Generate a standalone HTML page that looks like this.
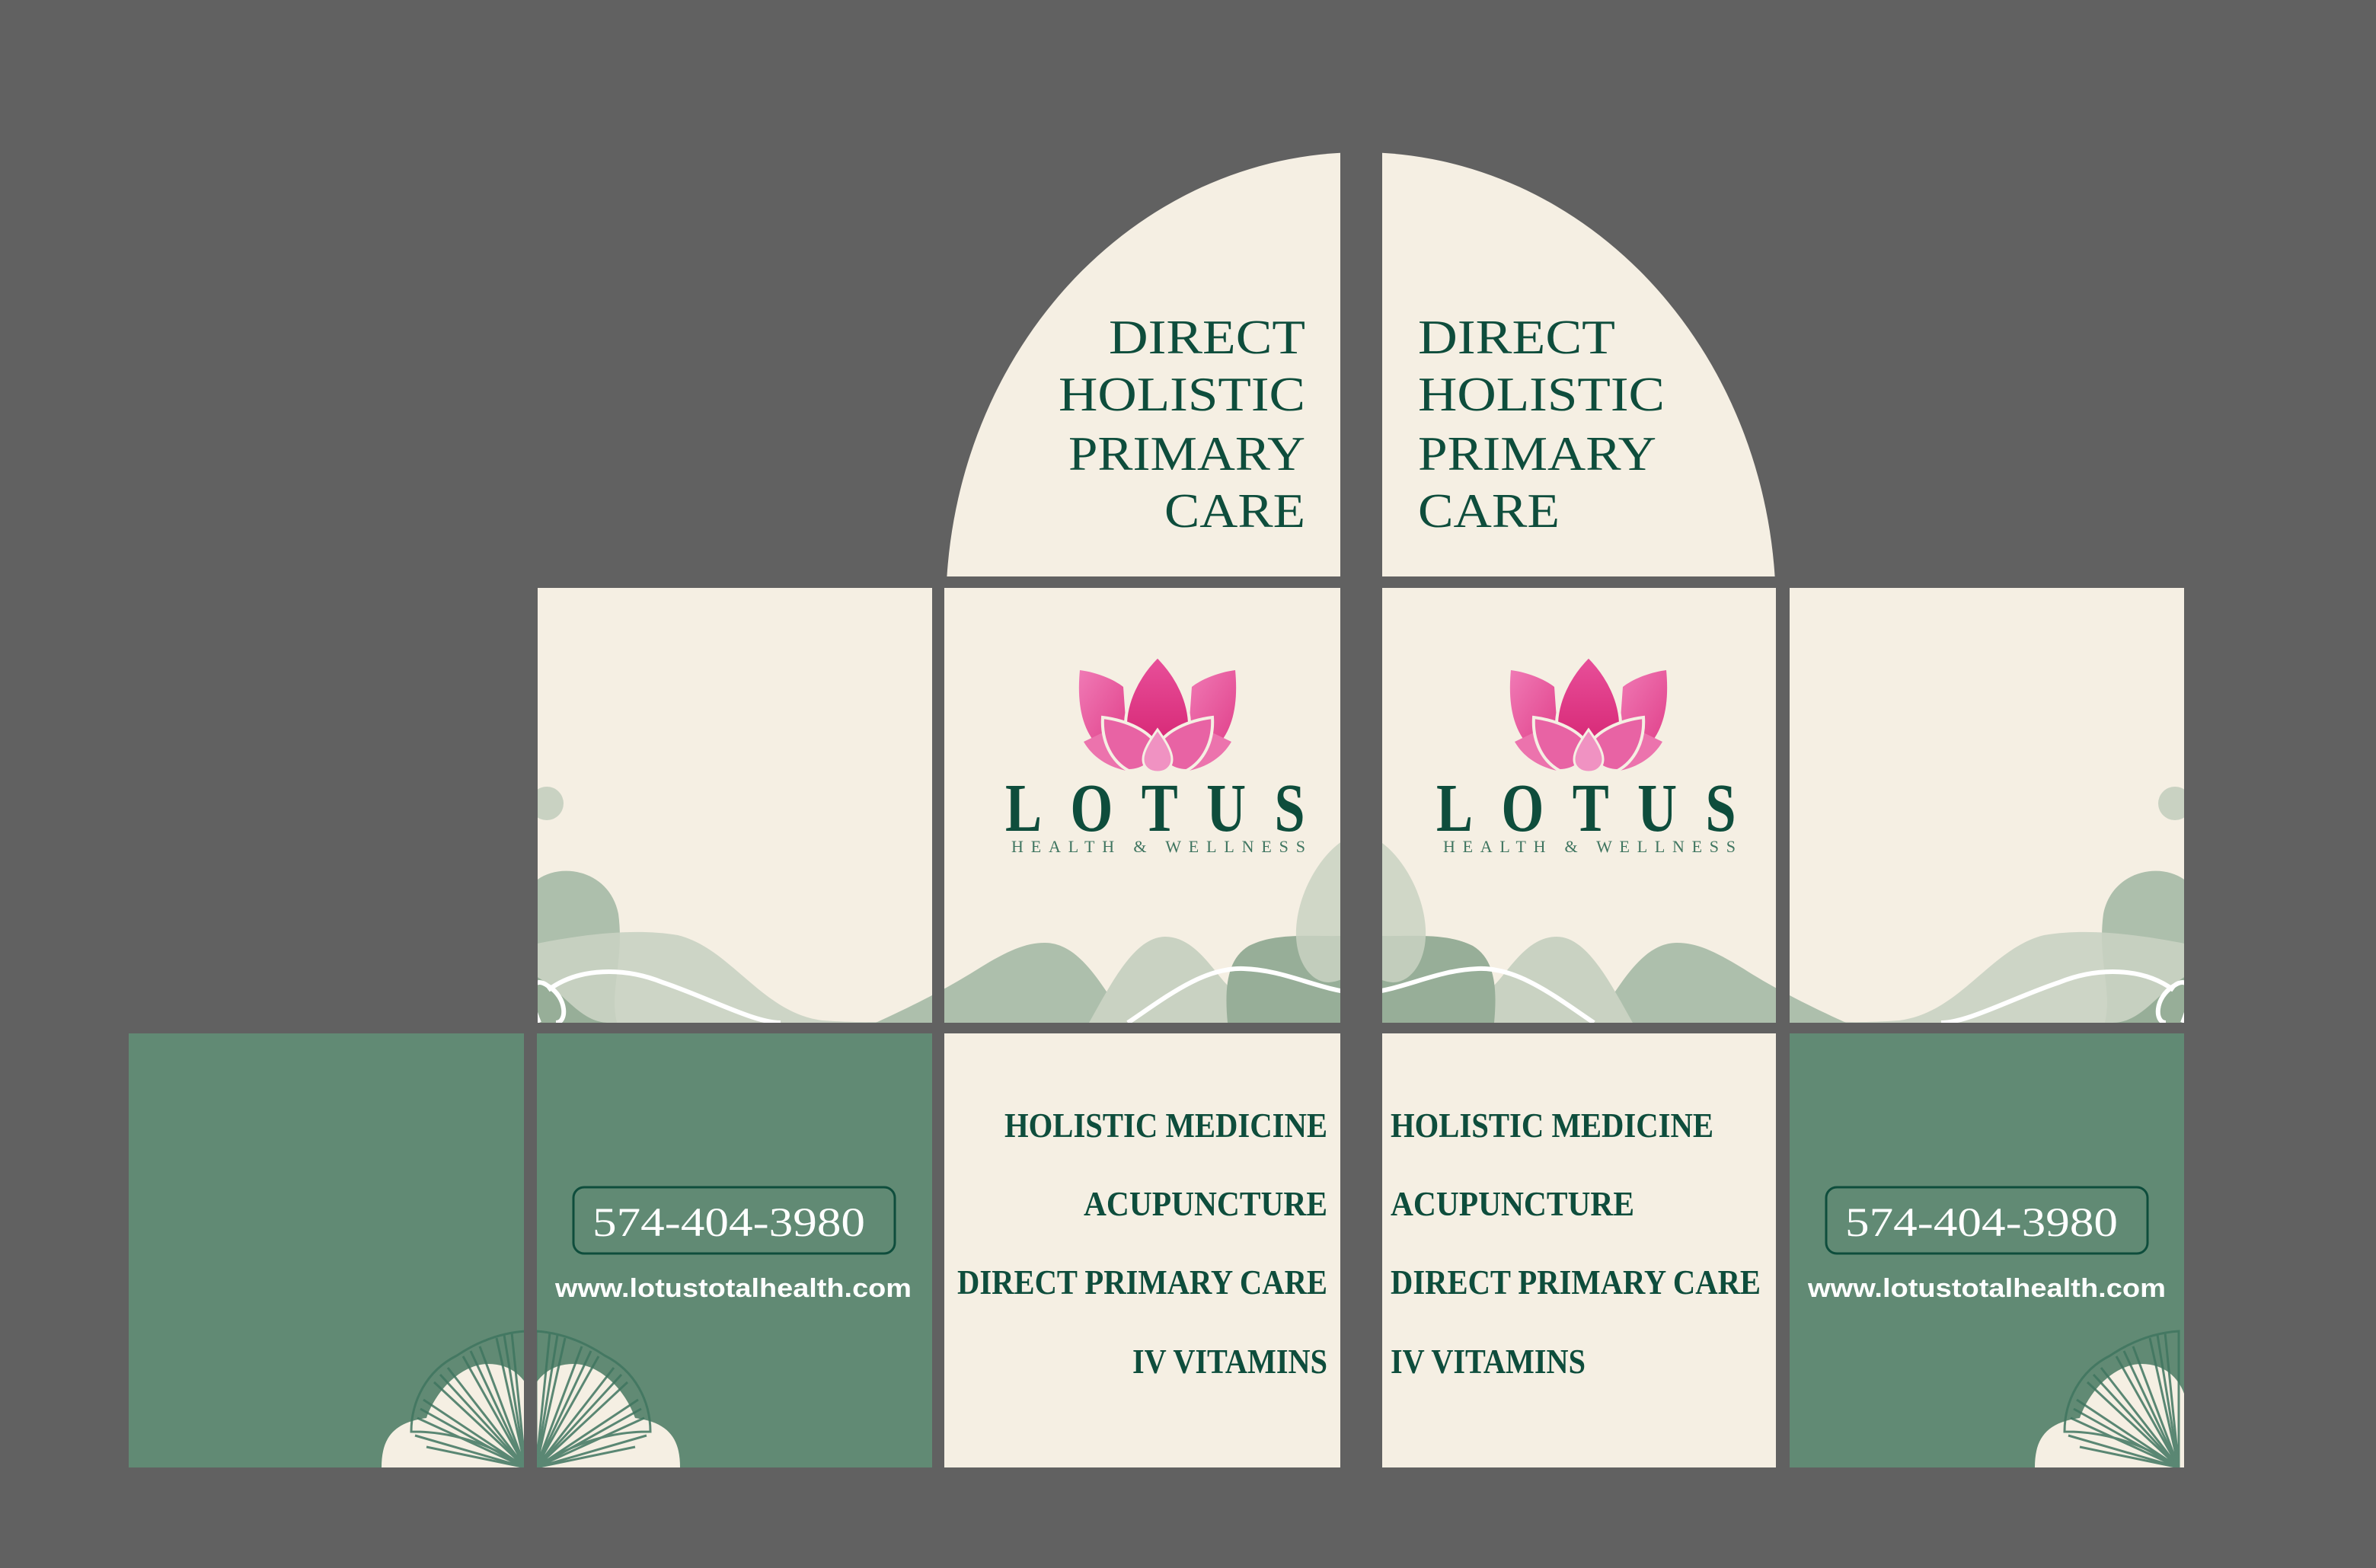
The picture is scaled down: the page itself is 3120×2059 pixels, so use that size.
<!DOCTYPE html>
<html><head><meta charset="utf-8"><style>
html,body{margin:0;padding:0;background:#616161;}
svg{display:block;}
</style></head><body>
<svg width="3120" height="2059" viewBox="0 0 3120 2059" xmlns="http://www.w3.org/2000/svg">
<defs>
<linearGradient id="pk" x1="0" y1="0" x2="0" y2="1">
<stop offset="0" stop-color="#e8509a"/><stop offset="1" stop-color="#d82a78"/></linearGradient>
<linearGradient id="pk2" x1="0" y1="0" x2="1" y2="1">
<stop offset="0" stop-color="#f07ab5"/><stop offset="1" stop-color="#e0408a"/></linearGradient>
<clipPath id="mid">
<rect x="706" y="772" width="518" height="571"/>
<rect x="1240" y="772" width="520" height="571"/>
<rect x="1815" y="772" width="517" height="571"/>
<rect x="2350" y="772" width="518" height="571"/>
</clipPath>
<clipPath id="bot">
<rect x="169" y="1357" width="519" height="570"/>
<rect x="705" y="1357" width="519" height="570"/>
<rect x="2350" y="1357" width="518" height="570"/>
</clipPath>
<g id="flower">
<path d="M-45,40 C-60,28 -85,20 -102,18 C-106,60 -100,95 -78,118 L-40,110 Z" fill="url(#pk2)"/>
<path d="M45,40 C60,28 85,20 102,18 C106,60 100,95 78,118 L40,110 Z" fill="url(#pk2)"/>
<path d="M0,0 C25,25 44,60 42,98 C30,112 -30,112 -42,98 C-44,60 -25,25 0,0 Z" fill="url(#pk)" stroke="#f5efe3" stroke-width="4"/>
<path d="M-97,112 L-72,100 C-62,125 -52,140 -36,151 C-66,146 -86,131 -97,112 Z" fill="#ec73ad"/>
<path d="M97,112 L72,100 C62,125 52,140 36,151 C66,146 86,131 97,112 Z" fill="#ec73ad"/>
<path d="M-72,80 C-40,84 -10,98 0,118 C-5,140 -20,150 -38,150 C-60,138 -74,112 -72,80 Z" fill="#e863a4" stroke="#f5efe3" stroke-width="4"/>
<path d="M72,80 C40,84 10,98 0,118 C5,140 20,150 38,150 C60,138 74,112 72,80 Z" fill="#e863a4" stroke="#f5efe3" stroke-width="4"/>
<path d="M0,96 C10,110 19,124 19,135 C19,146 10,152 0,152 C-10,152 -19,146 -19,135 C-19,124 -10,110 0,96 Z" fill="#f092c2" stroke="#f5efe3" stroke-width="3"/>
</g>
<g id="wavesL">
<path d="M700,1343 L700,1160 C730,1130 800,1140 812,1200 C820,1260 800,1300 810,1343 Z" fill="#adbfac"/>
<path d="M700,1240 C760,1228 830,1218 890,1228 C960,1245 1000,1330 1080,1340 C1150,1345 1200,1340 1240,1335 L1240,1343 L700,1343 Z" fill="#c9d2c2" opacity="0.9"/>
<path d="M700,1280 C740,1300 760,1343 800,1343 L700,1343 Z" fill="#97ae98"/>
<path d="M1150,1343 C1200,1320 1240,1300 1280,1275 C1320,1250 1345,1238 1372,1238 C1420,1238 1450,1300 1480,1343 Z" fill="#adbfac"/>
<path d="M1430,1343 C1460,1290 1490,1230 1530,1230 C1575,1230 1600,1290 1620,1300 C1640,1320 1650,1343 1660,1343 Z" fill="#c9d2c2"/>
<path d="M1612,1343 C1608,1300 1610,1260 1640,1242 C1680,1222 1730,1232 1787,1228 L1787,1343 Z" fill="#97ae98"/>
<path d="M1787,1095 C1750,1098 1705,1160 1702,1220 C1700,1260 1720,1290 1745,1290 C1770,1288 1787,1270 1787,1265 Z" fill="#c9d2c2" opacity="0.85"/>
<path d="M708,1343 C690,1300 700,1280 720,1295 C745,1310 745,1343 730,1343" fill="none" stroke="#fff" stroke-width="6"/>
<path d="M720,1300 C760,1270 820,1270 870,1290 C930,1310 990,1343 1025,1343" fill="none" stroke="#fff" stroke-width="6"/>
<path d="M1481,1343 C1530,1310 1580,1270 1633,1272 C1690,1274 1730,1300 1787,1305" fill="none" stroke="#fff" stroke-width="6"/>
</g>
<g id="ginkgo">
<path d="M501,1927 C501,1890 515,1868 560,1862 C575,1820 610,1791 641,1791 C672,1791 690,1810 697,1830 L697,1927 Z" fill="#f5efe3"/>
<g fill="none" stroke="#3f7560" stroke-width="3" opacity="0.85">
<path d="M690,1927 C620,1880 560,1880 540,1880 C540,1840 560,1800 600,1780 C630,1760 660,1750 690,1748 Z"/>
<path d="M690,1927 L545,1885 M690,1927 L548,1862 M690,1927 L556,1838 M690,1927 L570,1815 M690,1927 L588,1796 M690,1927 L608,1781 M690,1927 L630,1768 M690,1927 L652,1757 M690,1927 L672,1750"/>
<path d="M690,1927 L560,1900 M690,1927 L552,1850 M690,1927 L578,1805 M690,1927 L618,1774 M690,1927 L662,1753"/>
</g>
</g>
</defs>

<rect width="3120" height="2059" fill="#616161"/>

<clipPath id="archL"><rect x="1200" y="150" width="560" height="607"/></clipPath>
<clipPath id="archR"><rect x="1815" y="150" width="560" height="607"/></clipPath>
<ellipse cx="1787" cy="800" rx="545" ry="600" fill="#f5efe3" clip-path="url(#archL)"/>
<ellipse cx="1787" cy="800" rx="545" ry="600" fill="#f5efe3" clip-path="url(#archR)"/>

<g font-family="Liberation Serif, serif" fill="#0e4d3c" font-size="64">
<text x="1714" y="464" text-anchor="end" textLength="258" lengthAdjust="spacingAndGlyphs">DIRECT</text>
<text x="1714" y="539" text-anchor="end" textLength="324" lengthAdjust="spacingAndGlyphs">HOLISTIC</text>
<text x="1714" y="617" text-anchor="end" textLength="311" lengthAdjust="spacingAndGlyphs">PRIMARY</text>
<text x="1714" y="692" text-anchor="end" textLength="185" lengthAdjust="spacingAndGlyphs">CARE</text>
<text x="1862" y="464" textLength="259" lengthAdjust="spacingAndGlyphs">DIRECT</text>
<text x="1862" y="539" textLength="324" lengthAdjust="spacingAndGlyphs">HOLISTIC</text>
<text x="1862" y="617" textLength="313" lengthAdjust="spacingAndGlyphs">PRIMARY</text>
<text x="1862" y="692" textLength="186" lengthAdjust="spacingAndGlyphs">CARE</text>
</g>

<g fill="#f5efe3">
<rect x="706" y="772" width="518" height="571"/>
<rect x="1240" y="772" width="520" height="571"/>
<rect x="1815" y="772" width="517" height="571"/>
<rect x="2350" y="772" width="518" height="571"/>
</g>
<g clip-path="url(#mid)">
<circle cx="718" cy="1055" r="22" fill="#c9d2c2"/>
<circle cx="2856" cy="1055" r="22" fill="#c9d2c2"/>
<use href="#wavesL"/>
<use href="#wavesL" transform="translate(3574,0) scale(-1,1)"/>
</g>

<use href="#flower" transform="translate(1520,862)"/>
<use href="#flower" transform="translate(2086,862)"/>
<g font-family="Liberation Serif, serif" fill="#0e4d3c">
<text transform="translate(1320,1091) scale(0.8,1)" font-size="90" font-weight="bold" textLength="492" lengthAdjust="spacing">LOTUS</text>
<text transform="translate(1886,1091) scale(0.8,1)" font-size="90" font-weight="bold" textLength="492" lengthAdjust="spacing">LOTUS</text>
<text x="1328" y="1119" font-size="22" fill="#3f7560" textLength="386" lengthAdjust="spacing">HEALTH &amp; WELLNESS</text>
<text x="1895" y="1119" font-size="22" fill="#3f7560" textLength="384" lengthAdjust="spacing">HEALTH &amp; WELLNESS</text>
</g>

<rect x="169" y="1357" width="519" height="570" fill="#618a74"/>
<rect x="705" y="1357" width="519" height="570" fill="#618a74"/>
<rect x="1240" y="1357" width="520" height="570" fill="#f5efe3"/>
<rect x="1815" y="1357" width="517" height="570" fill="#f5efe3"/>
<rect x="2350" y="1357" width="518" height="570" fill="#618a74"/>
<g clip-path="url(#bot)">
<use href="#ginkgo"/>
<use href="#ginkgo" transform="translate(1394,0) scale(-1,1)"/>
<use href="#ginkgo" transform="translate(2171,0)"/>
</g>

<g font-family="Liberation Serif, serif" font-weight="bold" fill="#0e4d3c" font-size="46">
<text x="1743" y="1493" text-anchor="end" textLength="424" lengthAdjust="spacingAndGlyphs">HOLISTIC MEDICINE</text>
<text x="1743" y="1596" text-anchor="end" textLength="320" lengthAdjust="spacingAndGlyphs">ACUPUNCTURE</text>
<text x="1743" y="1699" text-anchor="end" textLength="486" lengthAdjust="spacingAndGlyphs">DIRECT PRIMARY CARE</text>
<text x="1743" y="1803" text-anchor="end" textLength="256" lengthAdjust="spacingAndGlyphs">IV VITAMINS</text>
<text x="1826" y="1493" textLength="424" lengthAdjust="spacingAndGlyphs">HOLISTIC MEDICINE</text>
<text x="1826" y="1596" textLength="320" lengthAdjust="spacingAndGlyphs">ACUPUNCTURE</text>
<text x="1826" y="1699" textLength="486" lengthAdjust="spacingAndGlyphs">DIRECT PRIMARY CARE</text>
<text x="1826" y="1803" textLength="256" lengthAdjust="spacingAndGlyphs">IV VITAMINS</text>
</g>

<rect x="753" y="1559" width="422" height="87" rx="14" fill="none" stroke="#0e4d3c" stroke-width="3"/>
<rect x="2398" y="1559" width="422" height="87" rx="14" fill="none" stroke="#0e4d3c" stroke-width="3"/>
<g fill="#fff">
<text x="778" y="1623" font-family="Liberation Serif, serif" font-size="54" textLength="358" lengthAdjust="spacingAndGlyphs">574-404-3980</text>
<text x="2423" y="1623" font-family="Liberation Serif, serif" font-size="54" textLength="358" lengthAdjust="spacingAndGlyphs">574-404-3980</text>
<text x="729" y="1703" font-family="Liberation Sans, sans-serif" font-weight="bold" font-size="34" textLength="468" lengthAdjust="spacingAndGlyphs">www.lotustotalhealth.com</text>
<text x="2374" y="1703" font-family="Liberation Sans, sans-serif" font-weight="bold" font-size="34" textLength="470" lengthAdjust="spacingAndGlyphs">www.lotustotalhealth.com</text>
</g>
</svg>
</body></html>
